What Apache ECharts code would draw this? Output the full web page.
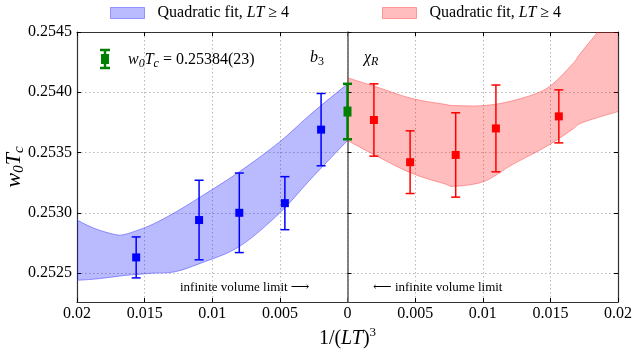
<!DOCTYPE html>
<html>
<head>
<meta charset="utf-8">
<script src="https://cdn.jsdelivr.net/npm/echarts@6/dist/echarts.min.js"></script>
<style>
  html, body { margin: 0; padding: 0; background: #fff; }
  #chart { width: 635px; height: 357px; }
</style>
</head>
<body>
<div id="chart"></div>
<script>
// 1/(LT)^3 for LT = 4, 4.5, 5, 6, 8 (b3 is drawn mirrored on the left)
const invVol = [0.015625, 0.010974, 0.008, 0.00463, 0.001953];
const b3Val = [0.25263, 0.25294, 0.25300, 0.25308, 0.25369];
const b3Err = [0.00017, 0.00033, 0.00033, 0.00022, 0.00030];
const chiVal = [0.25380, 0.25370, 0.25348, 0.25342, 0.25377];
const chiErr = [0.00022, 0.00036, 0.00035, 0.00026, 0.00030];
const limitVal = 0.25384;
const limitErr = 0.00023;

// fit bands
const b3BandX = [0.02, 0.0187, 0.0172, 0.0165, 0.0154, 0.0143, 0.0128, 0.0109, 0.008, 0.005, 0.0028, 0];
const b3BandHi = [0.25294, 0.25287, 0.25282, 0.25282, 0.25286, 0.25291, 0.25300, 0.25313, 0.25334, 0.25359, 0.25381, 0.25407];
const b3BandLo = [0.25244, 0.25245, 0.25247, 0.25248, 0.25249, 0.25250, 0.25251, 0.25258, 0.25272, 0.25300, 0.25327, 0.25360];
const chiBandX = [0, 0.002, 0.0047, 0.0072, 0.0079, 0.0101, 0.0122, 0.0147, 0.0166, 0.0172, 0.0185, 0.02];
const chiBandHi = [0.25412, 0.25405, 0.25395, 0.25390, 0.25389, 0.25389, 0.25393, 0.25403, 0.25423, 0.25432, 0.25450, 0.25472];
const chiBandLo = [0.25360, 0.25348, 0.25333, 0.25324, 0.25322, 0.25326, 0.25340, 0.25355, 0.25369, 0.25374, 0.25379, 0.25384];

const yTicks = [0.2525, 0.2530, 0.2535, 0.2540, 0.2545];

const SERIF = "'Liberation Serif', 'DejaVu Serif', serif";
const BLUE_FILL = 'rgba(0,0,255,0.27)', BLUE_EDGE = 'rgba(70,70,255,0.55)';
const RED_FILL = 'rgba(255,0,0,0.26)', RED_EDGE = 'rgba(255,60,60,0.45)';

// catmull-rom through pixel points -> bezier path segments
function curve(pts, start) {
  let d = (start ? 'M' : 'L') + pts[0][0] + ' ' + pts[0][1];
  for (let i = 0; i < pts.length - 1; i++) {
    const p0 = pts[Math.max(i - 1, 0)], p1 = pts[i], p2 = pts[i + 1], p3 = pts[Math.min(i + 2, pts.length - 1)];
    const c1 = [p1[0] + (p2[0] - p0[0]) / 6, p1[1] + (p2[1] - p0[1]) / 6];
    const c2 = [p2[0] - (p3[0] - p1[0]) / 6, p2[1] - (p3[1] - p1[1]) / 6];
    d += 'C' + c1.join(' ') + ' ' + c2.join(' ') + ' ' + p2.join(' ');
  }
  return d;
}

function band(name, xs, lo, hi, sign, fill, edge) {
  return {
    name: name,
    type: 'custom',
    clip: true,
    z: 1,
    silent: true,
    itemStyle: { color: fill, borderColor: edge },
    data: xs.map((x, i) => [sign * x, lo[i], hi[i]]),
    encode: { x: 0, y: [1, 2] },
    renderItem: function (params, api) {
      if (params.dataIndex !== 0) return null;
      const top = xs.map((x, i) => api.coord([sign * x, hi[i]]));
      const bot = xs.map((x, i) => api.coord([sign * x, lo[i]])).reverse();
      return {
        type: 'group',
        children: [
          { type: 'path', shape: { pathData: curve(top, true) + curve(bot, false) + 'Z' }, style: { fill: fill } },
          { type: 'path', shape: { pathData: curve(top, true) }, style: { stroke: edge, lineWidth: 1, fill: null } },
          { type: 'path', shape: { pathData: curve(bot, true) }, style: { stroke: edge, lineWidth: 1, fill: null } }
        ]
      };
    }
  };
}

function errorBars(xs, ys, es, sign, color, lw, cap, w, h) {
  return {
    type: 'custom',
    z: 5,
    silent: true,
    data: xs.map((x, i) => [sign * x, ys[i], es[i]]),
    encode: { x: 0, y: 1 },
    renderItem: function (params, api) {
      const x = api.value(0), y = api.value(1), e = api.value(2);
      const p = api.coord([x, y]);
      const t = api.coord([x, y + e])[1];
      const b = api.coord([x, y - e])[1];
      const st = { stroke: color, lineWidth: lw };
      return {
        type: 'group',
        children: [
          { type: 'line', shape: { x1: p[0], y1: t, x2: p[0], y2: b }, style: st },
          { type: 'line', shape: { x1: p[0] - cap, y1: t, x2: p[0] + cap, y2: t }, style: st },
          { type: 'line', shape: { x1: p[0] - cap, y1: b, x2: p[0] + cap, y2: b }, style: st },
          { type: 'rect', shape: { x: p[0] - w / 2, y: p[1] - h / 2, width: w, height: h }, style: { fill: color } }
        ]
      };
    }
  };
}

const chart = echarts.init(document.getElementById('chart'));

const tickStyle = { show: true, inside: true, length: 4, lineStyle: { color: '#000', width: 1 } };
const frameLine = { show: true, onZero: false, lineStyle: { color: '#333', width: 1.2 } };
const gridDots = { show: true, lineStyle: { color: '#b8b8b8', width: 1, type: [1.5, 2.5] } };
const sub = { fontFamily: SERIF, fontSize: 12, fontStyle: 'italic', lineHeight: 12, verticalAlign: 'bottom' };
const legendText = {
  fontFamily: SERIF, fontSize: 16, color: '#000', padding: [0, 0, 0, 8],
  rich: { i: { fontFamily: SERIF, fontSize: 16, fontStyle: 'italic' }, r: { fontFamily: SERIF, fontSize: 16 } }
};

const option = {
  animation: false,
  backgroundColor: '#fff',
  grid: { left: 77, right: 17, top: 32, bottom: 55, outerBoundsMode: 'none', containLabel: false },
  legend: [
    {
      left: 110, top: 5, padding: 0, icon: 'rect', itemWidth: 34, itemHeight: 11, selectedMode: false,
      data: [{ name: 'b3 fit', itemStyle: { color: 'rgba(0,0,255,0.27)', borderColor: 'rgba(70,70,255,0.5)', borderWidth: 1 } }],
      formatter: () => 'Quadratic fit, {i|LT}{r| ≥ 4}',
      textStyle: legendText
    },
    {
      left: 382, top: 5, padding: 0, icon: 'rect', itemWidth: 34, itemHeight: 11, selectedMode: false,
      data: [{ name: 'chi fit', itemStyle: { color: 'rgba(255,0,0,0.26)', borderColor: 'rgba(255,60,60,0.45)', borderWidth: 1 } }],
      formatter: () => 'Quadratic fit, {i|LT}{r| ≥ 4}',
      textStyle: legendText
    }
  ],
  xAxis: [
    {
      type: 'value', min: -0.02, max: 0.02, interval: 0.005,
      axisLine: frameLine, axisTick: tickStyle, splitLine: gridDots,
      axisLabel: {
        margin: 4, color: '#000', fontFamily: SERIF, fontSize: 16,
        formatter: v => String(parseFloat(Math.abs(v).toFixed(4)))
      },
      name: '1/({i|LT}){s|3}', nameLocation: 'middle', nameGap: 24, nameMoveOverlap: false,
      nameTextStyle: {
        fontFamily: SERIF, fontSize: 20, color: '#000', lineHeight: 26,
        rich: {
          i: { fontFamily: SERIF, fontSize: 20, fontStyle: 'italic', lineHeight: 26 },
          s: { fontFamily: SERIF, fontSize: 13, lineHeight: 13, verticalAlign: 'top' }
        }
      }
    },
    {
      type: 'value', position: 'top', min: -0.02, max: 0.02, interval: 0.005,
      axisLine: frameLine, axisTick: tickStyle, axisLabel: { show: false }, splitLine: { show: false }
    }
  ],
  yAxis: [
    {
      type: 'value', min: 0.25226, max: 0.2545,
      axisLine: frameLine,
      axisTick: Object.assign({ customValues: yTicks }, tickStyle),
      splitLine: gridDots,
      axisLabel: {
        customValues: yTicks, margin: 5, color: '#000', fontFamily: SERIF, fontSize: 16,
        formatter: v => v.toFixed(4)
      },
      name: '{i|w}{s|0}{i|T}{s|c}', nameLocation: 'middle', nameGap: 50, nameRotate: 90, nameMoveOverlap: false,
      nameTextStyle: {
        fontFamily: SERIF, fontSize: 22, color: '#000',
        rich: {
          i: { fontFamily: SERIF, fontSize: 22, fontStyle: 'italic', lineHeight: 26 },
          s: { fontFamily: SERIF, fontSize: 15, fontStyle: 'italic', lineHeight: 15, verticalAlign: 'bottom' }
        }
      }
    },
    {
      type: 'value', position: 'right', min: 0.25226, max: 0.2545,
      axisLine: frameLine,
      axisTick: Object.assign({ customValues: yTicks }, tickStyle),
      axisLabel: { show: false }, splitLine: { show: false }
    },
    {
      // the vertical line through 1/(LT)^3 = 0
      type: 'value', position: 'left', min: 0.25226, max: 0.2545, z: 3,
      axisLine: { show: true, onZero: true, lineStyle: { color: '#666', width: 1.6 } },
      axisTick: { show: true, inside: true, length: 4, customValues: yTicks, lineStyle: { color: '#000', width: 1 } },
      axisLabel: { show: false }, splitLine: { show: false }
    }
  ],
  graphic: [
    { type: 'line', silent: true, z: 10, shape: { x1: 105, y1: 50, x2: 105, y2: 68 }, style: { stroke: '#007f00', lineWidth: 2.5 } },
    { type: 'line', silent: true, z: 10, shape: { x1: 100, y1: 50, x2: 110, y2: 50 }, style: { stroke: '#007f00', lineWidth: 2.5 } },
    { type: 'line', silent: true, z: 10, shape: { x1: 100, y1: 68, x2: 110, y2: 68 }, style: { stroke: '#007f00', lineWidth: 2.5 } },
    { type: 'rect', silent: true, z: 10, shape: { x: 101, y: 54, width: 8, height: 10 }, style: { fill: '#007f00' } },
    {
      type: 'text', silent: true, z: 10, x: 128, y: 60,
      style: {
        text: '{i|w}{s|0}{i|T}{s|c}{r| = 0.25384(23)}', verticalAlign: 'middle',
        rich: {
          i: { fontFamily: SERIF, fontSize: 16, fontStyle: 'italic', lineHeight: 20 },
          s: sub,
          r: { fontFamily: SERIF, fontSize: 16, lineHeight: 20 }
        }
      }
    },
    {
      type: 'text', silent: true, z: 10, x: 310, y: 58,
      style: {
        text: '{i|b}{s|3}', verticalAlign: 'middle',
        rich: { i: { fontFamily: SERIF, fontSize: 16, fontStyle: 'italic', lineHeight: 20 }, s: { fontFamily: SERIF, fontSize: 12, lineHeight: 12, verticalAlign: 'bottom' } }
      }
    },
    {
      type: 'text', silent: true, z: 10, x: 364, y: 58,
      style: {
        text: '{i|χ}{s|R}', verticalAlign: 'middle',
        rich: { i: { fontFamily: SERIF, fontSize: 16, fontStyle: 'italic', lineHeight: 20 }, s: sub }
      }
    },
    {
      type: 'text', silent: true, z: 10, x: 180, y: 288,
      style: { text: 'infinite volume limit ⟶', fontFamily: SERIF, fontSize: 13, fill: '#000', verticalAlign: 'middle' }
    },
    {
      type: 'text', silent: true, z: 10, x: 373, y: 288,
      style: { text: '⟵ infinite volume limit', fontFamily: SERIF, fontSize: 13, fill: '#000', verticalAlign: 'middle' }
    }
  ],
  series: [
    band('b3 fit', b3BandX, b3BandLo, b3BandHi, -1, BLUE_FILL, BLUE_EDGE),
    band('chi fit', chiBandX, chiBandLo, chiBandHi, 1, RED_FILL, RED_EDGE),
    errorBars(invVol, b3Val, b3Err, -1, '#0000ff', 1.5, 4.5, 8, 8),
    errorBars(invVol, chiVal, chiErr, 1, '#ff0000', 1.5, 4.5, 8, 8),
    Object.assign(errorBars([0], [limitVal], [limitErr], 1, '#007f00', 2.5, 4.5, 8, 10), { z: 6 })
  ]
};

chart.setOption(option);
</script>
</body>
</html>
